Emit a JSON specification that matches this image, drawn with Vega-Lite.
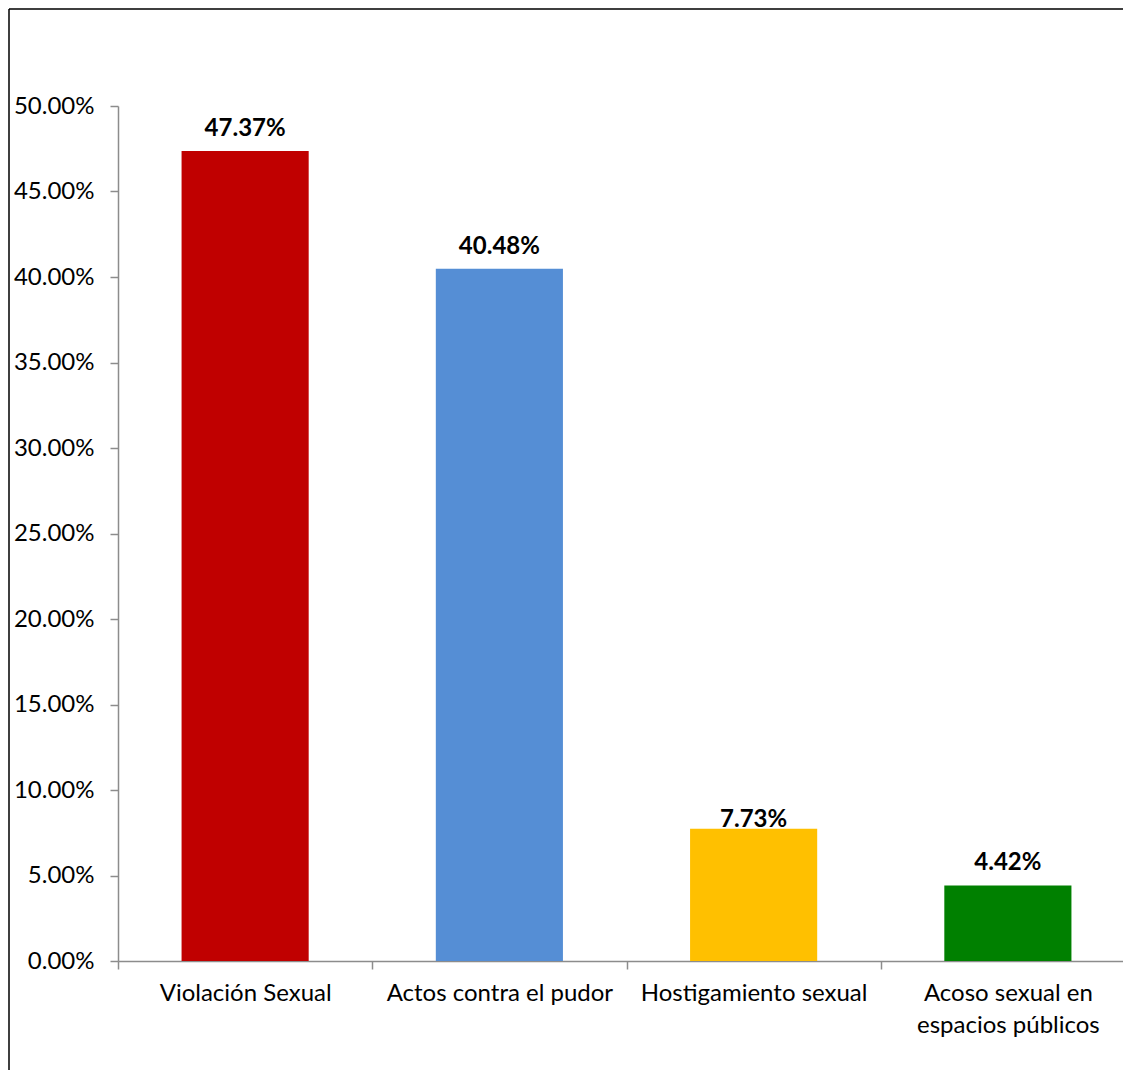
{
  "$schema": "https://vega.github.io/schema/vega-lite/v6.json",
  "autosize": "none",
  "padding": {"left": 9, "top": 9, "right": 0, "bottom": 0},
  "width": 1114,
  "height": 1061,
  "background": "white",
  "config": {
    "view": {"stroke": "black", "strokeWidth": 1.5, "strokeDash": [1114, 2175, 1061, 0]},
    "font": "Lato"
  },
  "data": {
    "values": [
      {"tipo": "Violación Sexual", "pct": 0.4737},
      {"tipo": "Actos contra el pudor", "pct": 0.4048},
      {"tipo": "Hostigamiento sexual", "pct": 0.0773},
      {"tipo": "Acoso sexual en espacios públicos", "pct": 0.0442}
    ]
  },
  "encoding": {
    "x": {
      "field": "tipo", "type": "nominal", "sort": null,
      "scale": {"range": [109, 1126], "paddingInner": 0, "paddingOuter": 0},
      "axis": {
        "title": null, "orient": "bottom", "offset": -109, "labelAngle": 0,
        "tickBand": "extent", "domainColor": "#8c8c8c", "domainWidth": 1.5,
        "tickColor": "#8c8c8c", "tickWidth": 1.5, "tickSize": 8,
        "labelFont": "Lato", "labelFontSize": 24, "labelColor": "black",
        "labelPadding": 12, "labelLineHeight": 32, "labelLimit": 400,
        "labelExpr": "datum.value == 'Acoso sexual en espacios públicos' ? ['Acoso sexual en', 'espacios públicos'] : datum.label"
      }
    },
    "y": {
      "field": "pct", "type": "quantitative",
      "scale": {"domain": [0, 0.5], "range": [952, 97], "nice": false, "zero": true},
      "axis": {
        "title": null, "orient": "left", "offset": -109, "format": ".2%",
        "values": [0, 0.05, 0.1, 0.15, 0.2, 0.25, 0.3, 0.35, 0.4, 0.45, 0.5],
        "grid": false, "domainColor": "#8c8c8c", "domainWidth": 1.5,
        "tickColor": "#8c8c8c", "tickWidth": 1.5, "tickSize": 8,
        "labelFont": "Lato", "labelFontSize": 24, "labelColor": "black", "labelPadding": 16
      }
    }
  },
  "layer": [
    {
      "mark": {"type": "bar", "width": {"band": 0.5}},
      "encoding": {
        "color": {
          "field": "tipo", "type": "nominal", "legend": null,
          "scale": {
            "domain": ["Violación Sexual", "Actos contra el pudor", "Hostigamiento sexual", "Acoso sexual en espacios públicos"],
            "range": ["#C00000", "#558ED5", "#FFC000", "#008000"]
          }
        }
      }
    },
    {
      "transform": [{"filter": "datum.tipo != 'Hostigamiento sexual'"}],
      "mark": {"type": "text", "baseline": "alphabetic", "dy": -15, "fontSize": 24, "fontWeight": "bold", "font": "Lato", "color": "black"},
      "encoding": {
        "text": {"field": "pct", "type": "quantitative", "format": ".2%"}
      }
    },
    {
      "transform": [{"filter": "datum.tipo == 'Hostigamiento sexual'"}],
      "mark": {"type": "text", "baseline": "alphabetic", "dy": -2, "fontSize": 24, "fontWeight": "bold", "font": "Lato", "color": "black"},
      "encoding": {
        "text": {"field": "pct", "type": "quantitative", "format": ".2%"}
      }
    }
  ]
}
